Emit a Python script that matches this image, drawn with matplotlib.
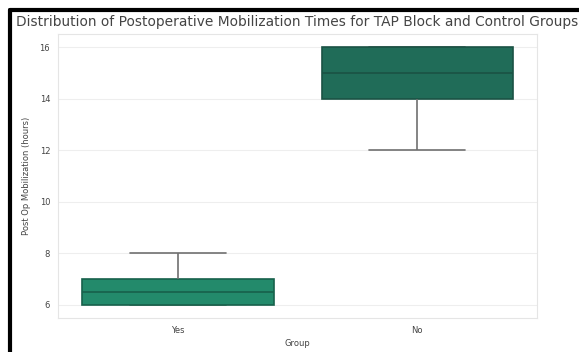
import matplotlib
matplotlib.use("Agg")
import matplotlib.pyplot as plt
import seaborn as sns
import pandas as pd
from matplotlib.lines import Line2D

groups = ["Yes", "No"]
yes_times = [6, 6, 6, 6, 7, 7, 7, 8]
no_times = [12, 14, 14, 15, 15, 16, 16, 16]
box_colors = ["#238a6b", "#206c58"]
edge_colors = ["#17614b", "#1a5244"]

df = pd.DataFrame({
    "Group": ["Yes"] * len(yes_times) + ["No"] * len(no_times),
    "Post Op Mobilization (hours)": yes_times + no_times,
})

sns.set_theme(style="whitegrid")
plt.rcParams['font.family'] = ['DejaVu Sans']

fig = plt.figure(figsize=(5.79, 3.52), dpi=100)
ax = fig.add_axes([0.101, 0.097, 0.826, 0.806])
sns.boxplot(data=df, x="Group", y="Post Op Mobilization (hours)", order=groups,
            hue="Group", palette=dict(zip(groups, box_colors)), legend=False,
            ax=ax, width=0.8, linewidth=1.2, saturation=1,
            whiskerprops=dict(color="#707070"), capprops=dict(color="#707070", zorder=0.9))
for i, patch in enumerate(ax.patches):
    patch.set_edgecolor(edge_colors[i % 2])
    patch.set_zorder(2)
medians = [l for l in ax.lines if len(l.get_xdata()) == 2 and l.get_ydata()[0] == l.get_ydata()[1]
           and abs(l.get_xdata()[1] - l.get_xdata()[0]) > 0.5]
for i, l in enumerate(medians):
    l.set_color(edge_colors[i % 2])
    l.set_zorder(3)

ax.set_title("Distribution of Postoperative Mobilization Times for TAP Block and Control Groups",
             fontsize=9.9, color="#444444", pad=6)
ax.set_xlabel("Group", fontsize=6, color="#444444", labelpad=3)
ax.set_ylabel("Post Op Mobilization (hours)", fontsize=6, color="#444444", labelpad=6)
ax.tick_params(labelsize=6, colors="#444444", pad=0)
ax.set_ylim(5.5, 16.5)
ax.xaxis.grid(False)
for s in ax.spines.values():
    s.set_color("#e5e5e5")
    s.set_linewidth(0.8)
ax.yaxis.grid(True, color="#eeeeee", linewidth=0.8)

fig.add_artist(Line2D([0.017, 0.017], [0, 0.972], color="black", linewidth=3, transform=fig.transFigure))
fig.add_artist(Line2D([0.017, 1.0], [0.972, 0.972], color="black", linewidth=3, transform=fig.transFigure))

fig.savefig("out.png", dpi=100)
